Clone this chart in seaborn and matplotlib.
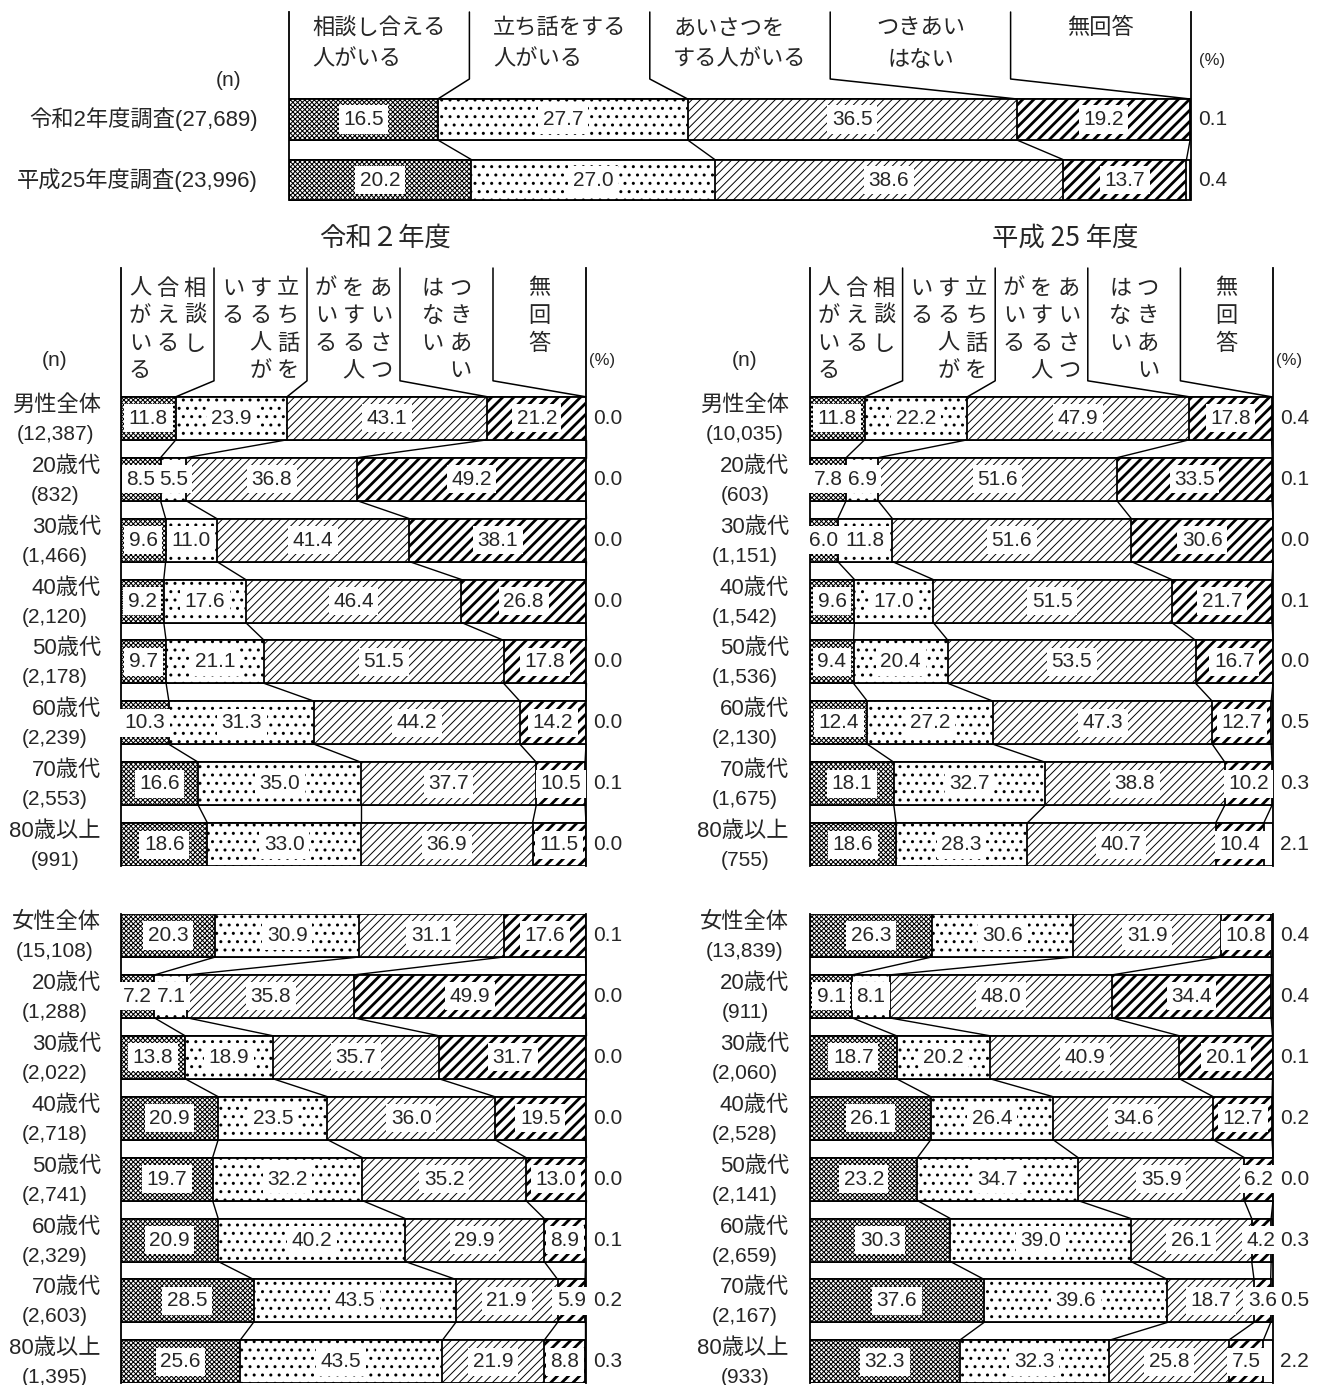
import numpy as np
import pandas as pd
import matplotlib
matplotlib.use("Agg")
import matplotlib.pyplot as plt
import seaborn as sns
from matplotlib import font_manager

sns.set_theme(style="white")

_installed = {f.name for f in font_manager.fontManager.ttflist}
NUM_FONT = next((f for f in ("Liberation Sans Narrow", "DejaVu Sans Condensed", "Liberation Sans")
                 if f in _installed), "DejaVu Sans")
JP_FONT = "Noto Sans CJK JP"
plt.rcParams["font.family"] = [NUM_FONT, JP_FONT, "DejaVu Sans"]

# ---------------- data ----------------
answers = ["相談し合える人がいる", "立ち話をする人がいる", "あいさつをする人がいる", "つきあいはない", "無回答"]
header_lines = ["相談し合える\n人がいる", "立ち話をする\n人がいる", "あいさつを\nする人がいる", "つきあい\nはない", "無回答"]
# vertical header columns, right to left
header_columns = [["相談し", "合える", "人がいる"],
                  ["立ち話を", "する人が", "いる"],
                  ["あいさつ", "をする人", "がいる"],
                  ["つきあい", "はない"],
                  ["無回答"]]

survey_names = ["令和2年度調査", "平成25年度調査"]
survey_n = ["27,689", "23,996"]
survey_values = [[16.5, 27.7, 36.5, 19.2, 0.1],
                 [20.2, 27.0, 38.6, 13.7, 0.4]]

male_groups = ["男性全体", "20歳代", "30歳代", "40歳代", "50歳代", "60歳代", "70歳代", "80歳以上"]
female_groups = ["女性全体", "20歳代", "30歳代", "40歳代", "50歳代", "60歳代", "70歳代", "80歳以上"]

r2_male_n = ["12,387", "832", "1,466", "2,120", "2,178", "2,239", "2,553", "991"]
r2_male = [[11.8, 23.9, 43.1, 21.2, 0.0],
           [8.5, 5.5, 36.8, 49.2, 0.0],
           [9.6, 11.0, 41.4, 38.1, 0.0],
           [9.2, 17.6, 46.4, 26.8, 0.0],
           [9.7, 21.1, 51.5, 17.8, 0.0],
           [10.3, 31.3, 44.2, 14.2, 0.0],
           [16.6, 35.0, 37.7, 10.5, 0.1],
           [18.6, 33.0, 36.9, 11.5, 0.0]]

r2_female_n = ["15,108", "1,288", "2,022", "2,718", "2,741", "2,329", "2,603", "1,395"]
r2_female = [[20.3, 30.9, 31.1, 17.6, 0.1],
             [7.2, 7.1, 35.8, 49.9, 0.0],
             [13.8, 18.9, 35.7, 31.7, 0.0],
             [20.9, 23.5, 36.0, 19.5, 0.0],
             [19.7, 32.2, 35.2, 13.0, 0.0],
             [20.9, 40.2, 29.9, 8.9, 0.1],
             [28.5, 43.5, 21.9, 5.9, 0.2],
             [25.6, 43.5, 21.9, 8.8, 0.3]]

h25_male_n = ["10,035", "603", "1,151", "1,542", "1,536", "2,130", "1,675", "755"]
h25_male = [[11.8, 22.2, 47.9, 17.8, 0.4],
            [7.8, 6.9, 51.6, 33.5, 0.1],
            [6.0, 11.8, 51.6, 30.6, 0.0],
            [9.6, 17.0, 51.5, 21.7, 0.1],
            [9.4, 20.4, 53.5, 16.7, 0.0],
            [12.4, 27.2, 47.3, 12.7, 0.5],
            [18.1, 32.7, 38.8, 10.2, 0.3],
            [18.6, 28.3, 40.7, 10.4, 2.1]]

h25_female_n = ["13,839", "911", "2,060", "2,528", "2,141", "2,659", "2,167", "933"]
h25_female = [[26.3, 30.6, 31.9, 10.8, 0.4],
              [9.1, 8.1, 48.0, 34.4, 0.4],
              [18.7, 20.2, 40.9, 20.1, 0.1],
              [26.1, 26.4, 34.6, 12.7, 0.2],
              [23.2, 34.7, 35.9, 6.2, 0.0],
              [30.3, 39.0, 26.1, 4.2, 0.3],
              [37.6, 39.6, 18.7, 3.6, 0.5],
              [32.3, 32.3, 25.8, 7.5, 2.2]]

# ---------------- styling ----------------
HATCHES = ["xxxxxxx", "..", "////", "///", None]
HATCH_LW = [0.75, 1.0, 0.7, 2.0, 1.0]
EDGE_LW = 1.3
VAL_FS = 15
W, H = 1321, 1385
PT = 0.72  # points per pixel at 100 dpi

fig = plt.figure(figsize=(W / 100, H / 100), dpi=100)
fig.patch.set_facecolor("white")


def px_axes(x0, x1, y0, y1):
    return fig.add_axes([x0 / W, 1 - y1 / H, (x1 - x0) / W, (y1 - y0) / H])


def stacked(ax, names, values, bar_h):
    vals = np.asarray(values, dtype=float)
    cum = np.cumsum(vals, axis=1)
    df = pd.DataFrame(cum, columns=[f"c{k}" for k in range(5)])
    df.insert(0, "group", names)
    for k in range(4, -1, -1):
        with plt.rc_context({"hatch.linewidth": HATCH_LW[k]}):
            sns.barplot(data=df, x=f"c{k}", y="group", order=names, orient="h",
                        color="white", saturation=1, edgecolor="black",
                        linewidth=EDGE_LW, hatch=HATCHES[k], width=bar_h,
                        errorbar=None, ax=ax, zorder=2)
        for p in ax.containers[-1]:
            if hasattr(p, "set_hatch_linewidth"):
                p.set_hatch_linewidth(HATCH_LW[k])
    n = len(names)
    for i in range(n - 1):
        for k in range(4):
            ax.plot([cum[i, k], cum[i + 1, k]], [i + bar_h / 2, i + 1 - bar_h / 2],
                    color="black", lw=1.0, zorder=3, clip_on=False)
    for i in range(n):
        for k in range(4):
            ax.text(cum[i, k] - vals[i, k] / 2, i, f"{vals[i, k]:.1f}", ha="center",
                    va="center", fontsize=VAL_FS, family=NUM_FONT, zorder=6,
                    bbox=dict(boxstyle="square,pad=0.22", fc="white", ec="none"))
        ax.annotate(f"{vals[i, 4]:.1f}", xy=(1, i), xycoords=("axes fraction", "data"),
                    xytext=(7 * PT, 0), textcoords="offset points", ha="left",
                    va="center", fontsize=VAL_FS, family=NUM_FONT)
    return cum


def finish(ax, y_bottom, y_top):
    ax.set_xlim(0, 100)
    ax.set_ylim(y_bottom, y_top)
    ax.set_xticks([])
    ax.set_yticks([])
    ax.set_xlabel("")
    ax.set_ylabel("")
    for s in ("top", "bottom"):
        ax.spines[s].set_visible(False)
    for s in ("left", "right"):
        ax.spines[s].set_visible(True)
        ax.spines[s].set_color("black")
        ax.spines[s].set_linewidth(EDGE_LW)
    ax.patch.set_alpha(0)


def header_links(ax, cum0, y_top, bar_h, bend):
    ybar = -bar_h / 2
    for k in range(4):
        xd = 20 * (k + 1)
        ax.plot([xd, xd, cum0[k]], [y_top, ybar - bend, ybar], color="black",
                lw=1.1, zorder=3, clip_on=False)


def row_labels(ax, names, ns, name_dx, n_dx, up=13, down=16):
    for i, (nm, nn) in enumerate(zip(names, ns)):
        ax.annotate(nm, xy=(0, i), xycoords=("axes fraction", "data"),
                    xytext=(name_dx * PT, up * PT), textcoords="offset points",
                    ha="right", va="center", fontsize=16)
        ax.annotate(f"({nn})", xy=(0, i), xycoords=("axes fraction", "data"),
                    xytext=(n_dx * PT, -down * PT), textcoords="offset points",
                    ha="center", va="center", fontsize=15)


def ftext(x, y, s, **kw):
    fig.text(x / W, 1 - y / H, s, **kw)


# ---------------- overall comparison ----------------
c0, pitch, bh = 119.5, 60.5, 41 / 60.5
ax = px_axes(289, 1191, 12, 200.5)
ytop, ybot = (12 - c0) / pitch, (200.5 - c0) / pitch
cum = stacked(ax, survey_names, survey_values, bh)
header_links(ax, cum[0], ytop, bh, 20 / pitch)
for k, lab in enumerate(header_lines):
    ypx = 43.5 if "\n" in lab else 28
    ax.text(10 + 20 * k, (ypx - c0) / pitch, lab, ha="center", va="center",
            multialignment="center" if k == 3 else "left", fontsize=16,
            family=JP_FONT, linespacing=1.45)
for i, (nm, nn) in enumerate(zip(survey_names, survey_n)):
    ax.annotate(f"{nm}({nn})", xy=(0, i), xycoords=("axes fraction", "data"),
                xytext=(-31 * PT, 0), textcoords="offset points", ha="right",
                va="center", fontsize=16)
finish(ax, ybot, ytop)
ftext(229, 80, "(n)", ha="center", va="center", fontsize=15)
ftext(1212, 60, "(%)", ha="center", va="center", fontsize=12)

# ---------------- breakdown panels ----------------
pitch, bh = 60.9, 43 / 60.9
panels = [
    ("令和２年度", 385, 121, 586, r2_male, r2_male_n, r2_female, r2_female_n, -20, -66),
    ("平成 25 年度", 1065, 810, 1273, h25_male, h25_male_n, h25_female, h25_female_n, -21, -65),
]
for title, tx, x0, x1, mv, mn, fv, fn, name_dx, n_dx in panels:
    ftext(tx, 238, title, ha="center", va="center", fontsize=19, family=JP_FONT)

    # male block with header
    c0 = 418.3
    ax = px_axes(x0, x1, 268, 866)
    ytop, ybot = (268 - c0) / pitch, (866 - c0) / pitch
    cum = stacked(ax, male_groups, mv, bh)
    header_links(ax, cum[0], ytop, bh, 16 / pitch)
    for k, cols in enumerate(header_columns):
        m = len(cols)
        for j, col in enumerate(cols):
            dx = ((m - 1) / 2 - j) * 27.5
            for r, ch in enumerate(col):
                ax.annotate(ch, xy=(10 + 20 * k, (288 + 27.5 * r - c0) / pitch),
                            xycoords="data", xytext=(dx * PT, 0),
                            textcoords="offset points", ha="center", va="center",
                            fontsize=16, family=JP_FONT)
    row_labels(ax, male_groups, mn, name_dx, n_dx)
    finish(ax, ybot, ytop)
    ftext(x0 + n_dx, 360, "(n)", ha="center", va="center", fontsize=15)
    ftext(x1 + 16, 360, "(%)", ha="center", va="center", fontsize=12)

    # female block
    c0 = 935.5
    ax = px_axes(x0, x1, 914, 1383)
    ytop, ybot = (914 - c0) / pitch, (1383 - c0) / pitch
    stacked(ax, female_groups, fv, bh)
    row_labels(ax, female_groups, fn, name_dx, n_dx)
    finish(ax, ybot, ytop)

fig.savefig("out.png", dpi=100, facecolor="white")
